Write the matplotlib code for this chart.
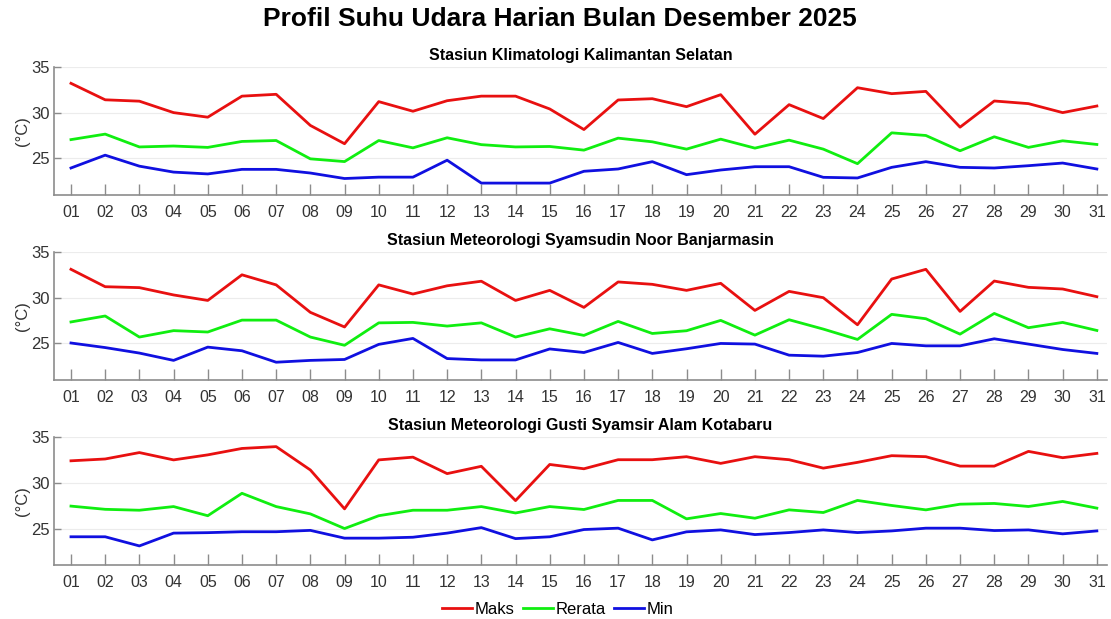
import numpy as np
import matplotlib
matplotlib.use("Agg")
import matplotlib.pyplot as plt

plt.rcParams['font.family'] = ['Liberation Sans', 'DejaVu Sans']

days = [f"{d:02d}" for d in range(1, 32)]

# Stasiun Klimatologi Kalimantan Selatan
klim_maks = [33.2, 31.4, 31.25, 30.0, 29.5, 31.8, 32.0, 28.6, 26.6, 31.2, 30.15, 31.3, 31.8, 31.8, 30.4,
             28.15, 31.38, 31.52, 30.65, 31.96, 27.64, 30.87, 29.35, 32.72, 32.07, 32.32, 28.41, 31.27, 30.98, 30.0, 30.72]
klim_rerata = [27.05, 27.65, 26.25, 26.35, 26.2, 26.85, 26.95, 24.95, 24.65, 26.95, 26.15, 27.25, 26.5, 26.25, 26.3,
               25.9, 27.21, 26.81, 26.01, 27.1, 26.12, 26.99, 26.01, 24.42, 27.79, 27.5, 25.83, 27.36, 26.2, 26.92, 26.52]
klim_min = [23.95, 25.35, 24.15, 23.5, 23.3, 23.8, 23.8, 23.4, 22.8, 22.95, 22.95, 24.8, 22.3, 22.3, 22.3,
            23.59, 23.84, 24.64, 23.22, 23.73, 24.09, 24.09, 22.93, 22.86, 24.02, 24.64, 24.02, 23.95, 24.2, 24.49, 23.84]

# Stasiun Meteorologi Syamsudin Noor Banjarmasin
bjm_maks = [33.1, 31.2, 31.1, 30.3, 29.7, 32.5, 31.4, 28.4, 26.8, 31.4, 30.4, 31.3, 31.8, 29.7, 30.8,
            28.94, 31.72, 31.46, 30.8, 31.57, 28.61, 30.69, 30.0, 27.04, 32.04, 33.1, 28.5, 31.82, 31.13, 30.95, 30.11]
bjm_rerata = [27.35, 28.0, 25.7, 26.4, 26.25, 27.55, 27.55, 25.7, 24.8, 27.25, 27.3, 26.9, 27.25, 25.7, 26.6,
              25.88, 27.41, 26.09, 26.39, 27.52, 25.91, 27.59, 26.57, 25.44, 28.18, 27.7, 26.02, 28.28, 26.72, 27.3, 26.42]
bjm_min = [25.05, 24.55, 23.95, 23.15, 24.6, 24.2, 22.95, 23.15, 23.25, 24.9, 25.55, 23.35, 23.2, 23.2, 24.4,
           24.01, 25.11, 23.91, 24.42, 25.0, 24.93, 23.72, 23.61, 24.01, 25.0, 24.74, 24.74, 25.51, 24.93, 24.34, 23.91]

# Stasiun Meteorologi Gusti Syamsir Alam Kotabaru
ktb_maks = [32.4, 32.6, 33.3, 32.5, 33.05, 33.75, 33.95, 31.4, 27.15, 32.5, 32.8, 31.0, 31.8, 28.05, 32.0,
            31.53, 32.52, 32.52, 32.85, 32.12, 32.85, 32.52, 31.6, 32.23, 32.96, 32.85, 31.82, 31.82, 33.43, 32.74, 33.21]
ktb_rerata = [27.45, 27.1, 27.0, 27.4, 26.4, 28.85, 27.4, 26.6, 25.0, 26.4, 27.0, 27.0, 27.4, 26.7, 27.4,
              27.08, 28.07, 28.07, 26.06, 26.64, 26.13, 27.04, 26.75, 28.07, 27.52, 27.04, 27.66, 27.74, 27.41, 27.96, 27.23]
ktb_min = [24.1, 24.1, 23.1, 24.5, 24.55, 24.65, 24.65, 24.8, 23.95, 23.95, 24.05, 24.5, 25.1, 23.9, 24.1,
           24.89, 25.04, 23.76, 24.64, 24.85, 24.34, 24.56, 24.85, 24.56, 24.74, 25.04, 25.04, 24.78, 24.85, 24.42, 24.74]

stations = ["Stasiun Klimatologi Kalimantan Selatan",
            "Stasiun Meteorologi Syamsudin Noor Banjarmasin",
            "Stasiun Meteorologi Gusti Syamsir Alam Kotabaru"]
series = [(klim_maks, klim_rerata, klim_min),
          (bjm_maks, bjm_rerata, bjm_min),
          (ktb_maks, ktb_rerata, ktb_min)]

labels = ["Maks", "Rerata", "Min"]
colors = ["#e81010", "#10ee10", "#1010e0"]

fig = plt.figure(figsize=(11.11, 6.19), dpi=100)

# axes positions [left, bottom, width, height] in figure fraction
boxes = [[0.0485, 0.685, 0.948, 0.207],
         [0.0485, 0.386, 0.948, 0.207],
         [0.0485, 0.087, 0.948, 0.207]]

x = np.arange(1, 32)
spine_col = "#8c8c8c"
lines = []
for box, name, (mx, rr, mn) in zip(boxes, stations, series):
    ax = fig.add_axes(box)
    for vals, lab, c in zip((mx, rr, mn), labels, colors):
        l, = ax.plot(x, vals, color=c, lw=2, label=lab)
        if len(lines) < 3:
            lines.append(l)
    ax.set_xlim(0.5, 31.3)
    ax.set_ylim(21, 35)
    ax.set_yticks([25, 30, 35])
    ax.set_xticks(x)
    ax.set_xticklabels(days)
    ax.grid(axis="y", color="#ececec", lw=0.8)
    ax.set_axisbelow(True)
    ax.spines["top"].set_visible(False)
    ax.spines["right"].set_visible(False)
    ax.spines["left"].set_color(spine_col)
    ax.spines["bottom"].set_color(spine_col)
    ax.spines["left"].set_linewidth(1.2)
    ax.spines["bottom"].set_linewidth(1.2)
    ax.tick_params(axis="x", direction="in", length=8, width=1, color=spine_col,
                   labelsize=11.5, labelcolor="#333333", pad=7)
    ax.tick_params(axis="y", direction="in", length=5, width=1, color=spine_col,
                   labelsize=12, labelcolor="#333333", pad=3)
    ax.set_ylabel("(°C)", fontsize=12, color="#333333", labelpad=1)
    ax.set_title(name, fontsize=11.5, fontweight="bold", pad=5)

fig.suptitle("Profil Suhu Udara Harian Bulan Desember 2025", fontsize=19,
             fontweight="bold", x=0.504, y=0.988)

fig.legend(lines, labels, loc="center", bbox_to_anchor=(0.502, 0.016), ncol=3,
           frameon=False, fontsize=12, handlelength=1.8, handletextpad=0.15,
           columnspacing=0.5)

fig.savefig("out.png", dpi=100)
